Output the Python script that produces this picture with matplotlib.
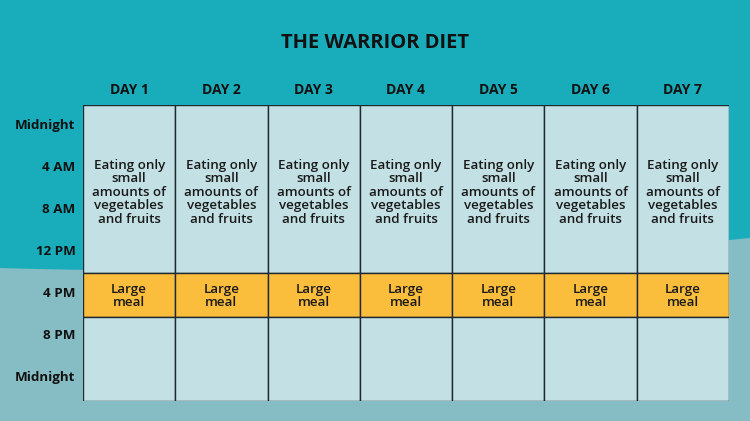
import numpy as np
import matplotlib
matplotlib.use("Agg")
import matplotlib.pyplot as plt
from matplotlib.patches import Rectangle, Polygon

days = ["DAY 1", "DAY 2", "DAY 3", "DAY 4", "DAY 5", "DAY 6", "DAY 7"]
time_labels = ["Midnight", "4 AM", "8 AM", "12 PM", "4 PM", "8 PM", "Midnight"]
time_hours = [0, 4, 8, 12, 16, 20, 24]
# blocks: (start hour, end hour, text, colour)
blocks = [
    (-2, 14, "Eating only\nsmall\namounts of\nvegetables\nand fruits", "#c3e1e4"),
    (14, 18.2, "Large\nmeal", "#fbbd3c"),
    (18.2, 26.2, "", "#c3e1e4"),
]

FONT = "Open Sans"
fig = plt.figure(figsize=(7.5, 4.21), dpi=100)
fig.patch.set_facecolor("#19adbb")

# background wave
bg = fig.add_axes([0, 0, 1, 1])
bg.set_xlim(0, 750); bg.set_ylim(421, 0); bg.axis("off")
xs = np.linspace(0, 750, 60)
ys = 268 - 30 * (xs / 750) ** 1.6 + 8 * np.sin(xs / 750 * np.pi)
bg.add_patch(Polygon(np.column_stack([np.r_[xs, 750, 0], np.r_[ys, 421, 421]]),
                     closed=True, color="#86bcc3", lw=0))

bg.text(375, 43, "THE WARRIOR DIET", ha="center", va="center",
        fontsize=14.5, fontweight="bold", color="#111111", family=FONT)

ax = fig.add_axes([83 / 750, 1 - 401 / 421, 646 / 750, 296 / 421])
ax.set_xlim(0, 7); ax.set_ylim(26.2, -2)
ax.axis("off")
for i, d in enumerate(days):
    for y0, y1, txt, col in blocks:
        ax.add_patch(Rectangle((i, y0), 1, y1 - y0, facecolor=col,
                               edgecolor="#1f2a30", lw=1.0))
        if txt:
            ax.text(i + 0.5, (y0 + y1) / 2 + (0.3 if y0 < 0 else 0.1), txt,
                    ha="center", va="center", fontsize=9.6, color="#1a1a1a",
                    family=FONT, linespacing=1.05, fontweight="semibold")
    ax.text(i + 0.5, -3.4, d, ha="center", va="center", fontsize=10,
            fontweight="bold", color="#111111", family=FONT, clip_on=False)
for h, lab in zip(time_hours, time_labels):
    ax.text(-0.08, h, lab, ha="right", va="center", fontsize=9.6,
            fontweight="bold", color="#111111", family=FONT, clip_on=False)

fig.savefig("out.png", dpi=100, facecolor=fig.get_facecolor())
